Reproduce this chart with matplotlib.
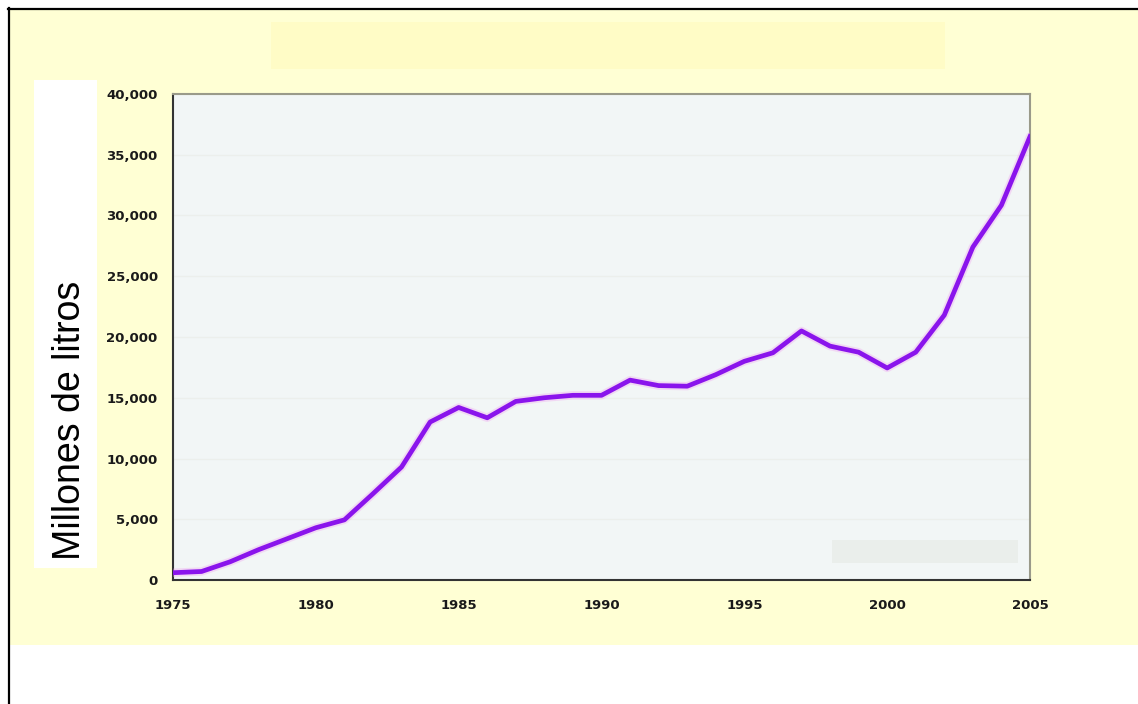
import matplotlib
matplotlib.use("Agg")
import matplotlib.pyplot as plt
from matplotlib.patches import Rectangle
from matplotlib.ticker import FuncFormatter

years = list(range(1975, 2006))
values = [600, 700, 1500, 2500, 3400, 4300, 4950, 7100, 9300, 13000,
          14200, 13350, 14700, 15000, 15200, 15200, 16450, 16000, 15950, 16900,
          18000, 18700, 20500, 19250, 18750, 17450, 18750, 21800, 27400, 30850,
          36500]
x_ticks = [1975, 1980, 1985, 1990, 1995, 2000, 2005]
y_ticks = list(range(0, 40001, 5000))
y_label = "Millones de litros"

W, H = 1138, 704
fig = plt.figure(figsize=(W / 100, H / 100), dpi=100)
fig.patch.set_facecolor("white")

def px_rect(x0, y0, x1, y1, z, **kw):
    fig.patches.append(Rectangle((x0 / W, 1 - y1 / H), (x1 - x0) / W, (y1 - y0) / H,
                                 transform=fig.transFigure, figure=fig, zorder=z, **kw))

# cream panel with black border
px_rect(9, 9, 1140, 645, -3, facecolor="#FFFFD4", edgecolor="none")
fig.lines.append(plt.Line2D([8 / W, 1], [1 - 8.5 / H, 1 - 8.5 / H], transform=fig.transFigure,
                            color="black", lw=1.6, figure=fig, zorder=-1))
fig.lines.append(plt.Line2D([8.5 / W, 8.5 / W], [0, 1 - 8 / H], transform=fig.transFigure,
                            color="black", lw=1.6, figure=fig, zorder=-1))
# title placeholder box
px_rect(271, 22, 945, 69, -2, facecolor="#FFFCC6", edgecolor="none")
# white box for y label
px_rect(34, 80, 97, 568, -2, facecolor="white", edgecolor="none")

ax = fig.add_axes([173 / W, 1 - 580 / H, (1030 - 173) / W, (580 - 94) / H])
ax.set_zorder(2)
ax.set_facecolor("#F2F6F6")
ax.plot(years, values, color="#F0A0F0", lw=6, alpha=0.35, solid_capstyle="round", zorder=3)
ax.plot(years, values, color="#8A14EC", lw=3.4, solid_joinstyle="round", zorder=4)
ax.set_xlim(1975, 2005)
ax.set_ylim(0, 40000)
ax.set_xticks(x_ticks)
ax.set_yticks(y_ticks)
ax.yaxis.set_major_formatter(FuncFormatter(lambda v, p: f"{int(v):,}"))
ax.tick_params(axis="both", length=0, labelsize=9.5, colors="#1A1A1A")
ax.tick_params(axis="y", pad=11)
ax.tick_params(axis="x", pad=14)
for lab in ax.get_xticklabels() + ax.get_yticklabels():
    lab.set_fontweight("bold")
ax.grid(axis="y", color="#ECEFEC", lw=1)
ax.set_axisbelow(True)
for s in ["left", "bottom"]:
    ax.spines[s].set_color("#333333")
    ax.spines[s].set_linewidth(1.5)
for s in ["top", "right"]:
    ax.spines[s].set_color("#9A9A8A")
    ax.spines[s].set_linewidth(1.5)

# faint gray rectangle in lower right of plot
ax.add_patch(Rectangle(((832 - 173) / (1030 - 173), (580 - 563) / (580 - 94)),
                       (1018 - 832) / (1030 - 173), (563 - 540) / (580 - 94),
                       transform=ax.transAxes, facecolor="#EAEEEB", edgecolor="none", zorder=2))

fig.text(70 / W, 1 - 420 / H, y_label, rotation=90, ha="center", va="center",
         fontsize=27, family=["Liberation Sans", "DejaVu Sans"], color="black", zorder=5)

fig.savefig("out.png", dpi=100, facecolor=fig.get_facecolor())
